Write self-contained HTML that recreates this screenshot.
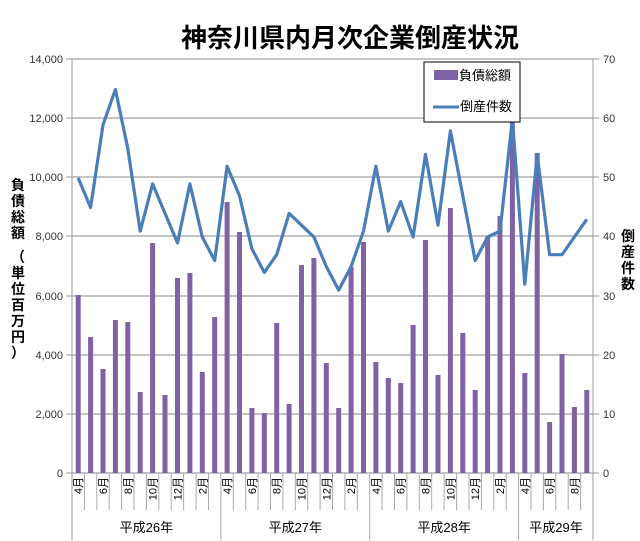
<!DOCTYPE html>
<html><head><meta charset="utf-8"><style>
html,body{margin:0;padding:0;background:#fff}
svg{display:block;font-family:"Liberation Sans","Noto Sans CJK JP",sans-serif}
</style></head><body>
<svg width="640" height="541" viewBox="0 0 640 541" xmlns="http://www.w3.org/2000/svg">
<rect width="640" height="541" fill="#fff"/>
<text x="350" y="47" font-size="26" font-weight="bold" text-anchor="middle" fill="#000">神奈川県内月次企業倒産状況</text>
<g stroke="#888" stroke-width="1">
<line x1="72" y1="59" x2="593" y2="59"/><line x1="72" y1="118" x2="593" y2="118"/><line x1="72" y1="177" x2="593" y2="177"/><line x1="72" y1="236" x2="593" y2="236"/><line x1="72" y1="296" x2="593" y2="296"/><line x1="72" y1="355" x2="593" y2="355"/><line x1="72" y1="414" x2="593" y2="414"/><line x1="72" y1="473" x2="593" y2="473"/>
</g>
<g stroke="#999" stroke-width="1">
<line x1="72" y1="59" x2="72" y2="540"/><line x1="593" y1="59" x2="593" y2="540"/>
<line x1="66" y1="59" x2="72" y2="59"/><line x1="66" y1="118" x2="72" y2="118"/><line x1="66" y1="177" x2="72" y2="177"/><line x1="66" y1="236" x2="72" y2="236"/><line x1="66" y1="296" x2="72" y2="296"/><line x1="66" y1="355" x2="72" y2="355"/><line x1="66" y1="414" x2="72" y2="414"/><line x1="66" y1="473" x2="72" y2="473"/>
<line x1="593" y1="59" x2="599" y2="59"/><line x1="593" y1="118" x2="599" y2="118"/><line x1="593" y1="177" x2="599" y2="177"/><line x1="593" y1="236" x2="599" y2="236"/><line x1="593" y1="296" x2="599" y2="296"/><line x1="593" y1="355" x2="599" y2="355"/><line x1="593" y1="414" x2="599" y2="414"/><line x1="593" y1="473" x2="599" y2="473"/>
</g>
<g stroke="#aaa" stroke-width="1">
<line x1="84.4" y1="473" x2="84.4" y2="510"/><line x1="96.8" y1="473" x2="96.8" y2="510"/><line x1="109.2" y1="473" x2="109.2" y2="510"/><line x1="121.6" y1="473" x2="121.6" y2="510"/><line x1="134" y1="473" x2="134" y2="510"/><line x1="146.4" y1="473" x2="146.4" y2="510"/><line x1="158.8" y1="473" x2="158.8" y2="510"/><line x1="171.2" y1="473" x2="171.2" y2="510"/><line x1="183.6" y1="473" x2="183.6" y2="510"/><line x1="196.1" y1="473" x2="196.1" y2="510"/><line x1="208.5" y1="473" x2="208.5" y2="510"/>
<line x1="220.9" y1="473" x2="220.9" y2="540"/>
<line x1="233.3" y1="473" x2="233.3" y2="510"/><line x1="245.7" y1="473" x2="245.7" y2="510"/><line x1="258.1" y1="473" x2="258.1" y2="510"/><line x1="270.5" y1="473" x2="270.5" y2="510"/><line x1="282.9" y1="473" x2="282.9" y2="510"/><line x1="295.3" y1="473" x2="295.3" y2="510"/><line x1="307.7" y1="473" x2="307.7" y2="510"/><line x1="320.1" y1="473" x2="320.1" y2="510"/><line x1="332.5" y1="473" x2="332.5" y2="510"/><line x1="344.9" y1="473" x2="344.9" y2="510"/><line x1="357.3" y1="473" x2="357.3" y2="510"/>
<line x1="369.7" y1="473" x2="369.7" y2="540"/>
<line x1="382.1" y1="473" x2="382.1" y2="510"/><line x1="394.5" y1="473" x2="394.5" y2="510"/><line x1="406.9" y1="473" x2="406.9" y2="510"/><line x1="419.3" y1="473" x2="419.3" y2="510"/><line x1="431.7" y1="473" x2="431.7" y2="510"/><line x1="444.1" y1="473" x2="444.1" y2="510"/><line x1="456.6" y1="473" x2="456.6" y2="510"/><line x1="469" y1="473" x2="469" y2="510"/><line x1="481.4" y1="473" x2="481.4" y2="510"/><line x1="493.8" y1="473" x2="493.8" y2="510"/><line x1="506.2" y1="473" x2="506.2" y2="510"/>
<line x1="518.6" y1="473" x2="518.6" y2="540"/>
<line x1="531" y1="473" x2="531" y2="510"/><line x1="543.4" y1="473" x2="543.4" y2="510"/><line x1="555.8" y1="473" x2="555.8" y2="510"/><line x1="568.2" y1="473" x2="568.2" y2="510"/><line x1="580.6" y1="473" x2="580.6" y2="510"/>
</g>
<g fill="#7f62a3">
<rect x="75.7" y="295" width="5" height="178"/><rect x="88.1" y="337" width="5" height="136"/><rect x="100.5" y="369" width="5" height="104"/><rect x="112.9" y="320" width="5" height="153"/><rect x="125.3" y="322" width="5" height="151"/><rect x="137.7" y="392" width="5" height="81"/><rect x="150.1" y="243" width="5" height="230"/><rect x="162.5" y="395" width="5" height="78"/><rect x="175" y="278" width="5" height="195"/><rect x="187.4" y="273" width="5" height="200"/><rect x="199.8" y="372" width="5" height="101"/><rect x="212.2" y="317" width="5" height="156"/>
<rect x="224.6" y="202" width="5" height="271"/><rect x="237" y="232" width="5" height="241"/><rect x="249.4" y="408" width="5" height="65"/><rect x="261.8" y="413" width="5" height="60"/><rect x="274.2" y="323" width="5" height="150"/><rect x="286.6" y="404" width="5" height="69"/><rect x="299" y="265" width="5" height="208"/><rect x="311.4" y="258" width="5" height="215"/><rect x="323.8" y="363" width="5" height="110"/><rect x="336.2" y="408" width="5" height="65"/><rect x="348.6" y="267" width="5" height="206"/><rect x="361" y="242" width="5" height="231"/>
<rect x="373.4" y="362" width="5" height="111"/><rect x="385.8" y="378" width="5" height="95"/><rect x="398.2" y="383" width="5" height="90"/><rect x="410.6" y="325" width="5" height="148"/><rect x="423" y="240" width="5" height="233"/><rect x="435.5" y="375" width="5" height="98"/><rect x="447.9" y="208" width="5" height="265"/><rect x="460.3" y="333" width="5" height="140"/><rect x="472.7" y="390" width="5" height="83"/><rect x="485.1" y="237" width="5" height="236"/><rect x="497.5" y="216" width="5" height="257"/><rect x="509.9" y="120" width="5" height="353"/>
<rect x="522.3" y="373" width="5" height="100"/><rect x="534.7" y="153" width="5" height="320"/><rect x="547.1" y="422" width="5" height="51"/><rect x="559.5" y="354" width="5" height="119"/><rect x="571.9" y="407" width="5" height="66"/><rect x="584.3" y="390" width="5" height="83"/>
</g>
<polyline fill="none" stroke="#4a7eb8" stroke-width="3.2" stroke-linejoin="round" points="78.2,178 90.6,207.5 103,124.9 115.4,89.5 127.8,148.5 140.2,231.1 152.6,183.9 165,213.4 177.5,242.9 189.9,183.9 202.3,237 214.7,260.6 227.1,166.2 239.5,195.7 251.9,248.8 264.3,272.4 276.7,254.7 289.1,213.4 301.5,225.2 313.9,237 326.3,266.5 338.7,290.1 351.1,266.5 363.5,231.1 375.9,166.2 388.3,231.1 400.7,201.6 413.1,237 425.5,154.4 438,225.2 450.4,130.8 462.8,195.7 475.2,260.6 487.6,237 500,231.1 512.4,119 524.8,284.2 537.2,154.4 549.6,254.7 562,254.7 574.4,237 586.8,219.3"/>
<rect x="424" y="62" width="96" height="60" fill="#fff" stroke="#000" stroke-width="1"/>
<rect x="434" y="70" width="24" height="10" fill="#7f62a3"/>
<text x="459" y="80" font-size="13" fill="#000">負債総額</text>
<line x1="433" y1="107" x2="459" y2="107" stroke="#4a7eb8" stroke-width="3"/>
<text x="460" y="111" font-size="13" fill="#000">倒産件数</text>
<g font-size="11" fill="#333" text-anchor="end">
<text x="63" y="63">14,000</text><text x="63" y="122">12,000</text><text x="63" y="181">10,000</text><text x="63" y="240">8,000</text><text x="63" y="300">6,000</text><text x="63" y="359">4,000</text><text x="63" y="418">2,000</text><text x="63" y="477">0</text>
</g>
<g font-size="11" fill="#333">
<text x="603" y="63">70</text><text x="603" y="122">60</text><text x="603" y="181">50</text><text x="603" y="240">40</text><text x="603" y="300">30</text><text x="603" y="359">20</text><text x="603" y="418">10</text><text x="603" y="477">0</text>
</g>
<g font-size="14" font-weight="bold" fill="#000" text-anchor="middle">
<text x="18" y="190">負</text><text x="18" y="206">債</text><text x="18" y="222">総</text><text x="18" y="238">額</text>
<text x="18" y="262">（</text><text x="18" y="278">単</text><text x="18" y="294">位</text><text x="18" y="310">百</text><text x="18" y="326">万</text><text x="18" y="342">円</text><text x="18" y="358">）</text>
<text x="628" y="241">倒</text><text x="628" y="257">産</text><text x="628" y="273">件</text><text x="628" y="289">数</text>
</g>
<g font-size="11" fill="#000" text-anchor="end">
<text transform="translate(82.2,477) rotate(-90)">4月</text><text transform="translate(107,477) rotate(-90)">6月</text><text transform="translate(131.8,477) rotate(-90)">8月</text><text transform="translate(156.6,477) rotate(-90)">10月</text><text transform="translate(181.5,477) rotate(-90)">12月</text><text transform="translate(206.3,477) rotate(-90)">2月</text>
<text transform="translate(231.1,477) rotate(-90)">4月</text><text transform="translate(255.9,477) rotate(-90)">6月</text><text transform="translate(280.7,477) rotate(-90)">8月</text><text transform="translate(305.5,477) rotate(-90)">10月</text><text transform="translate(330.3,477) rotate(-90)">12月</text><text transform="translate(355.1,477) rotate(-90)">2月</text>
<text transform="translate(379.9,477) rotate(-90)">4月</text><text transform="translate(404.7,477) rotate(-90)">6月</text><text transform="translate(429.5,477) rotate(-90)">8月</text><text transform="translate(454.4,477) rotate(-90)">10月</text><text transform="translate(479.2,477) rotate(-90)">12月</text><text transform="translate(504,477) rotate(-90)">2月</text>
<text transform="translate(528.8,477) rotate(-90)">4月</text><text transform="translate(553.6,477) rotate(-90)">6月</text><text transform="translate(578.4,477) rotate(-90)">8月</text>
</g>
<g font-size="13" fill="#000" text-anchor="middle">
<text x="146.4" y="532">平成26年</text><text x="295.3" y="532">平成27年</text><text x="444.1" y="532">平成28年</text><text x="556" y="532">平成29年</text>
</g>
</svg>
</body></html>
